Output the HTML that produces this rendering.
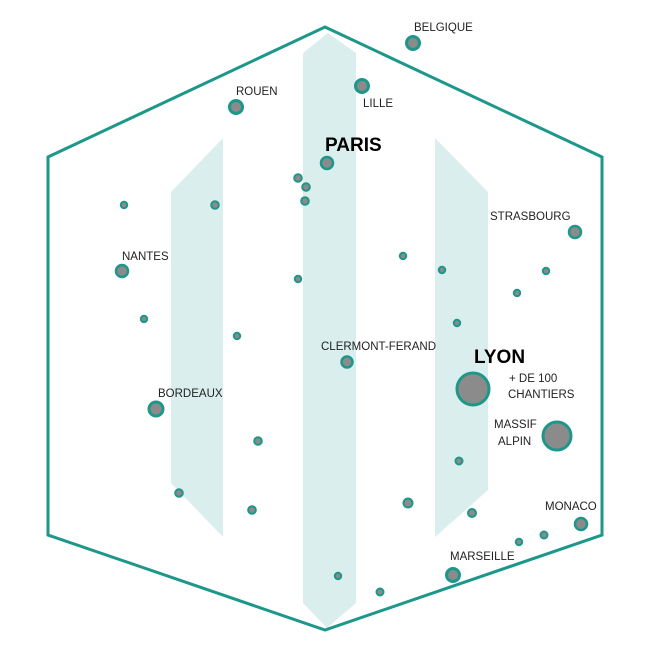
<!DOCTYPE html>
<html><head><meta charset="utf-8"><style>
body{margin:0;background:#fff}
svg text{font-family:"Liberation Sans",sans-serif;font-size:11.5px;fill:#222}
.b{font-weight:bold;font-size:19px;fill:#000}
</style></head><body>
<svg width="650" height="650" viewBox="0 0 650 650" xmlns="http://www.w3.org/2000/svg">
<rect width="650" height="650" fill="#fff"/>
<g fill="#d9eeed">
<polygon points="303,53 328,33 356,53 356,603 327,628 303,603"/>
<polygon points="171,192 223,138 223,537 171,483"/>
<polygon points="435,138 488,192 488,490 435,537"/>
</g>
<polygon points="325,27 602,157 602,535 325,630 48,535 48,157" fill="none" stroke="#1c978a" stroke-width="3"/>
<g fill="#8b8b8b" stroke="#1c978a">
<circle cx="413" cy="43" r="6.5" stroke-width="3"/>
<circle cx="362" cy="86" r="6.5" stroke-width="3"/>
<circle cx="236" cy="107" r="6.5" stroke-width="3"/>
<circle cx="327" cy="163" r="6" stroke-width="2.5"/>
<circle cx="298" cy="178" r="3.8" stroke-width="2"/>
<circle cx="306" cy="187" r="3.8" stroke-width="2"/>
<circle cx="305" cy="201" r="3.8" stroke-width="2"/>
<circle cx="215" cy="205" r="3.8" stroke-width="2"/>
<circle cx="124" cy="205" r="3.2" stroke-width="2"/>
<circle cx="122" cy="271" r="6" stroke-width="2.5"/>
<circle cx="298" cy="279" r="3.2" stroke-width="2"/>
<circle cx="403" cy="256" r="3.2" stroke-width="2"/>
<circle cx="442" cy="270" r="3.2" stroke-width="2"/>
<circle cx="546" cy="271" r="3.2" stroke-width="2"/>
<circle cx="517" cy="293" r="3.2" stroke-width="2"/>
<circle cx="575" cy="232" r="6" stroke-width="2.5"/>
<circle cx="144" cy="319" r="3.2" stroke-width="2"/>
<circle cx="237" cy="336" r="3.2" stroke-width="2"/>
<circle cx="457" cy="323" r="3.2" stroke-width="2"/>
<circle cx="347" cy="362" r="5.5" stroke-width="2.5"/>
<circle cx="473" cy="389" r="16" stroke-width="3"/>
<circle cx="557" cy="436" r="14" stroke-width="3"/>
<circle cx="156" cy="409" r="7" stroke-width="3"/>
<circle cx="258" cy="441" r="3.8" stroke-width="2"/>
<circle cx="459" cy="461" r="3.5" stroke-width="2"/>
<circle cx="179" cy="493" r="3.8" stroke-width="2"/>
<circle cx="252" cy="510" r="3.8" stroke-width="2"/>
<circle cx="408" cy="503" r="4.5" stroke-width="2"/>
<circle cx="472" cy="513" r="4" stroke-width="2"/>
<circle cx="581" cy="524" r="6" stroke-width="2.5"/>
<circle cx="544" cy="535" r="3.5" stroke-width="2"/>
<circle cx="519" cy="542" r="3.2" stroke-width="2"/>
<circle cx="453" cy="575" r="6.5" stroke-width="3"/>
<circle cx="338" cy="576" r="3.2" stroke-width="2"/>
<circle cx="380" cy="592" r="3.5" stroke-width="2"/>
</g>
<text x="414" y="31">BELGIQUE</text>
<text x="363" y="107">LILLE</text>
<text x="236" y="95">ROUEN</text>
<text class="b" x="325" y="151">PARIS</text>
<text x="490" y="220">STRASBOURG</text>
<text x="122" y="260">NANTES</text>
<text x="321" y="350">CLERMONT-FERAND</text>
<text class="b" x="474" y="363">LYON</text>
<text x="509" y="382">+ DE 100</text>
<text x="508" y="398">CHANTIERS</text>
<text x="494" y="428">MASSIF</text>
<text x="498" y="445">ALPIN</text>
<text x="158" y="397">BORDEAUX</text>
<text x="545" y="510">MONACO</text>
<text x="450" y="560">MARSEILLE</text>
</svg>
</body></html>
